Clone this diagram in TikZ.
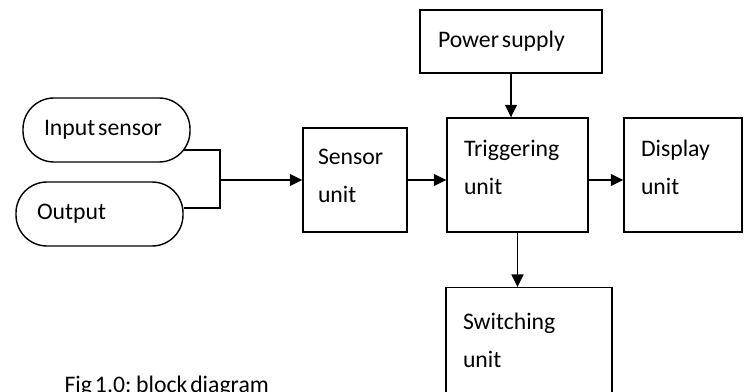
\documentclass[tikz,border=0pt]{standalone}
\usepackage{fontspec}
\setmainfont{Carlito}[WordSpace=0.55]
\usetikzlibrary{arrows.meta}

\begin{document}
\begin{tikzpicture}[every node/.style={font=\fontsize{13.5}{21.5}\selectfont}, >={Triangle[length=2.5mm, width=2.4mm]}, line width=0.8pt,
	blk/.style={draw, align=flush left, inner xsep=0.34cm, inner ysep=0pt},
	pill/.style={draw, rounded corners=0.62cm, align=flush left, text width=2.5cm, inner xsep=0.42cm, minimum height=1.28cm}]
	\useasboundingbox (0,0) rectangle (14.92,7.82);
	\node[pill] (inp) at (2.13,5.22) {Input sensor};
	\node[pill] (out) at (1.99,3.54) {Output};
	\node[blk, text width=1.48cm, inner xsep=0.30cm, minimum height=2.08cm] (sensor) at (7.10,4.22) {Sensor\\unit\rule[-0.16cm]{0pt}{0pt}};
	\node[blk, text width=2.92cm, inner xsep=0.36cm, minimum height=1.26cm] (power) at (10.22,6.99) {Power supply};
	\node[blk, text width=2.14cm, minimum height=2.28cm] (trig) at (10.35,4.32) {Triggering\\unit\rule[-0.32cm]{0pt}{0pt}};
	\node[blk, text width=1.68cm, minimum height=2.28cm] (disp) at (13.66,4.32) {Display\\unit\rule[-0.32cm]{0pt}{0pt}};
	\node[blk, text width=2.64cm, minimum height=2.12cm, anchor=north] (switch) at (10.58,2.08) {Switching\\unit};
	\node[anchor=base west] (cap) at (1.16,-0.02) {Fig 1.0: block diagram};
	\coordinate (join) at (4.40,4.22);
	\draw ([xshift=-0.14cm, yshift=-0.4cm]inp.east) -| (join) |- ([yshift=0.12cm]out.east);
	\draw[->] (join) -- (sensor.west);
	\draw[->] (power.south) -- (power.south |- trig.north);
	\draw[->] (sensor.east) -- (sensor.east -| trig.west);
	\draw[->] (sensor.east -| trig.east) -- (sensor.east -| disp.west);
	\draw[->] (trig.south) -- (trig.south |- switch.north);
\end{tikzpicture}
\end{document}
